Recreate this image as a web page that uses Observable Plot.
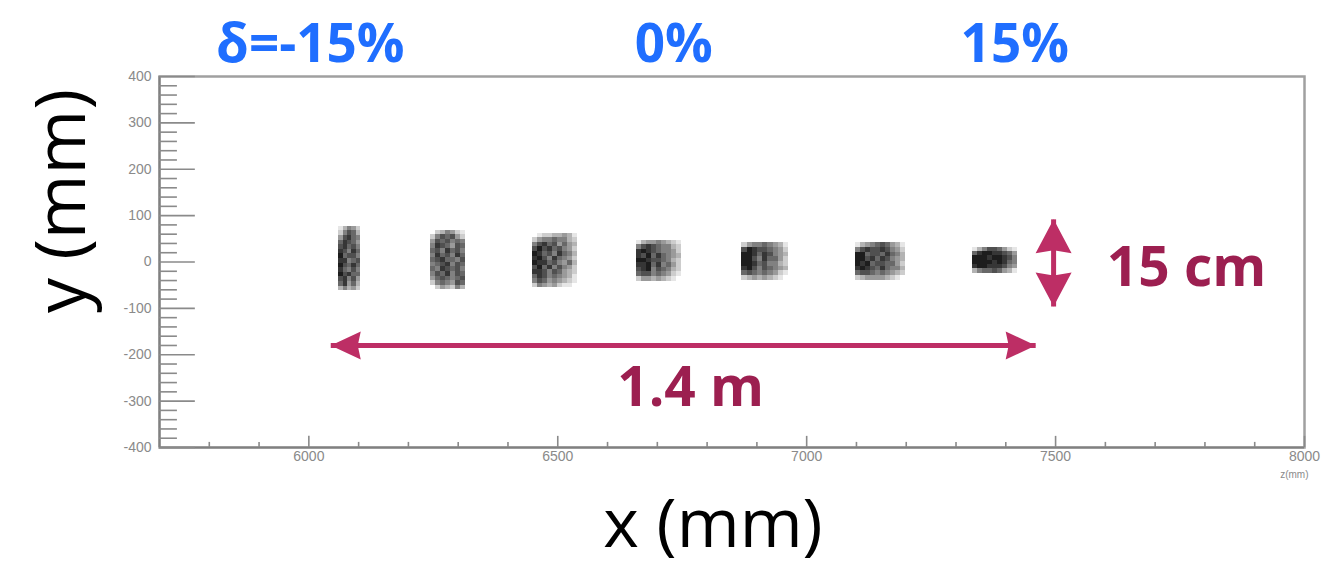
<!DOCTYPE html>
<html><head><meta charset="utf-8">
<script src="https://cdn.jsdelivr.net/npm/d3@7"></script>
<script src="https://cdn.jsdelivr.net/npm/@observablehq/plot@0.6"></script>
<style>
html,body{margin:0;padding:0;background:#fff;}
#chart svg{display:block;}
</style>
</head><body><div id="chart"></div>
<script>
// ---- data (mm) ----
// seven beam spots, extents
const clusterX1 = [6060, 6244, 6450, 6658, 6870, 7098, 7334];
const clusterX2 = [6104, 6314, 6540, 6748, 6964, 7198, 7424];
const clusterY1 = [-62, -60, -56, -41, -39, -39, -24];
const clusterY2 = [77, 69, 62, 47, 41, 41, 32];
// hit density per spot (0-9), rows listed from top to bottom
const clusterDensity = [
  ["13542","25763","47865","68764","78675","87586","96775","88567","97686","86575","97866","78574","68463","35342"],
  ["0235421","2576742","4767565","5876476","6758675","5867586","6786657","5678576","6587675","5768576","4676567","2565476","0243253"],
  ["012233431","245565532","578674643","797867542","986758653","897586542","988675463","796857542","887576432","687565431","576454321","254342110"],
  ["134454321","578765532","898765542","879686543","998776532","889685642","789576532","677565421","244343210"],
  ["245565431","798776542","998687543","997586642","998675532","897576543","676565421","234343210"],
  ["1345676431","5787787542","9967768653","9978687543","9896776642","8987686553","6776565432","2344443210"],
  ["135776421","689988764","999899875","999989865","899888754","356676431"]
];
// axis ticks
const yMajor = [-400, -300, -200, -100, 0, 100, 200, 300, 400];
const yMinor = d3.range(-400, 401, 20).filter(v => v % 100 !== 0);
const xMajor = [6000, 6500, 7000, 7500, 8000];
const xMinor = d3.range(5800, 8000, 100).filter(v => v % 500 !== 0);
// annotations
const deltaLabels = ["δ=-15%", "0%", "15%"];
const deltaX = [6003, 6733, 7418];
const arrowX1 = [6044, 7496];
const arrowX2 = [7460, 7496];
const arrowY1 = [-180, 92];
const arrowY2 = [-180, -96];
const noteText = ["1.4 m", "15 cm"];
const noteX = [6767, 7763];
const noteY = [-273, -14];

// ---- build tables ----
const cells = [];
clusterDensity.forEach((rows, i) => {
  const nr = rows.length, nc = rows[0].length;
  const w = (clusterX2[i] - clusterX1[i]) / nc, h = (clusterY2[i] - clusterY1[i]) / nr;
  rows.forEach((row, r) => {
    [...row].forEach((ch, c) => {
      const v = +ch;
      if (v > 0) cells.push({x1: clusterX1[i] + c * w, x2: clusterX1[i] + (c + 1) * w,
        y2: clusterY2[i] - r * h, y1: clusterY2[i] - (r + 1) * h, v});
    });
  });
});
const arrows = arrowX1.map((x1, i) => ({x1, x2: arrowX2[i], y1: arrowY1[i], y2: arrowY2[i]}));
const notes = noteText.map((t, i) => ({t, x: noteX[i], y: noteY[i]}));
const deltas = deltaLabels.map((t, i) => ({t, x: deltaX[i]}));

const X0 = 5700, Y0 = -400;
const ARROW = "#BD2E65", NOTE = "#9C1F50", BLUE = "#1F6EFF";
const head = (L, W, rot) => ({draw(ctx) {
  const pts = [[0, 0], [W / 2, L], [0, L - 3], [-W / 2, L]].map(([a, b]) => {
    const t = rot * Math.PI / 180;
    return [a * Math.cos(t) - b * Math.sin(t), a * Math.sin(t) + b * Math.cos(t)];
  });
  ctx.moveTo(...pts[0]); pts.slice(1).forEach(p => ctx.lineTo(...p)); ctx.closePath();
}});

const chart = Plot.plot({
  width: 1321, height: 565,
  marginLeft: 159, marginRight: 17, marginTop: 76, marginBottom: 118,
  x: {domain: [5700, 8000], axis: null},
  y: {domain: [-400, 400], axis: null},
  opacity: {domain: [0, 9], range: [0, 0.95]},
  style: {background: "#fff", overflow: "visible", fontFamily: "Open Sans"},
  marks: [
    Plot.frame({stroke: "#a0a0a0", strokeWidth: 2.5}),
    Plot.ruleX([X0], {stroke: "#808080", strokeWidth: 2}),
    Plot.ruleY([Y0], {stroke: "#808080", strokeWidth: 2}),
    // ticks (drawn inward)
    Plot.ruleY(yMajor, {x1: X0, x2: X0 + 72, stroke: "#8a8a8a", strokeWidth: 1.6}),
    Plot.ruleY(yMinor, {x1: X0, x2: X0 + 36, stroke: "#8a8a8a", strokeWidth: 1.6}),
    Plot.ruleX(xMajor, {y1: Y0, y2: Y0 + 24, stroke: "#8a8a8a", strokeWidth: 1.6}),
    Plot.ruleX(xMinor, {y1: Y0, y2: Y0 + 11, stroke: "#8a8a8a", strokeWidth: 1.6}),
    // tick labels
    Plot.text(yMajor, {x: X0, y: d => d, text: d => String(d), textAnchor: "end", dx: -8,
      fill: "#8a8a8a", fontSize: 14, fontFamily: "Liberation Sans"}),
    Plot.text(xMajor, {x: d => d, y: Y0, text: d => String(d), lineAnchor: "top", dy: 4,
      fill: "#8a8a8a", fontSize: 14, fontFamily: "Liberation Sans"}),
    Plot.text(["z(mm)"], {frameAnchor: "bottom-right", textAnchor: "end", dx: 4, dy: 30,
      fill: "#8a8a8a", fontSize: 10, fontFamily: "Liberation Sans"}),
    // beam spots
    Plot.rect(cells, {x1: "x1", x2: "x2", y1: "y1", y2: "y2", fill: "#111", fillOpacity: "v",
      shapeRendering: "crispEdges", className: "spots"}),
    // annotations
    Plot.link(arrows, {x1: "x1", x2: "x2", y1: "y1", y2: "y2", stroke: ARROW, strokeWidth: 5}),
    Plot.dot([arrows[0]], {x: "x1", y: "y1", r: 1, symbol: head(30, 28, -90), fill: ARROW, stroke: "none"}),
    Plot.dot([arrows[0]], {x: "x2", y: "y2", r: 1, symbol: head(30, 28, 90), fill: ARROW, stroke: "none"}),
    Plot.dot([arrows[1]], {x: "x1", y: "y1", r: 1, symbol: head(34, 36, 0), fill: ARROW, stroke: "none"}),
    Plot.dot([arrows[1]], {x: "x2", y: "y2", r: 1, symbol: head(34, 36, 180), fill: ARROW, stroke: "none"}),
    Plot.text(notes, {x: "x", y: "y", text: "t", fill: NOTE, fontSize: 55, fontWeight: 700,
      fontFamily: "Open Sans", lineAnchor: "middle"}),
    Plot.text(deltas, {x: "x", text: "t", frameAnchor: "top", dy: -31, fill: BLUE, fontSize: 53,
      fontWeight: 700, fontFamily: "Open Sans", lineAnchor: "middle", textAnchor: "middle"}),
    // axis titles
    Plot.text(["y (mm)"], {frameAnchor: "left", dx: -97, dy: -61, rotate: -90, fill: "#000",
      fontSize: 70, fontFamily: "Open Sans", lineAnchor: "middle", textAnchor: "middle"}),
    Plot.text(["x (mm)"], {frameAnchor: "bottom", dx: -19, dy: 78, fill: "#000",
      fontSize: 68, fontFamily: "Open Sans", lineAnchor: "middle", textAnchor: "middle"})
  ]
});
chart.querySelectorAll(".spots").forEach(g => g.style.filter = "blur(0.7px)");
document.getElementById("chart").appendChild(chart);
</script>
</body></html>
